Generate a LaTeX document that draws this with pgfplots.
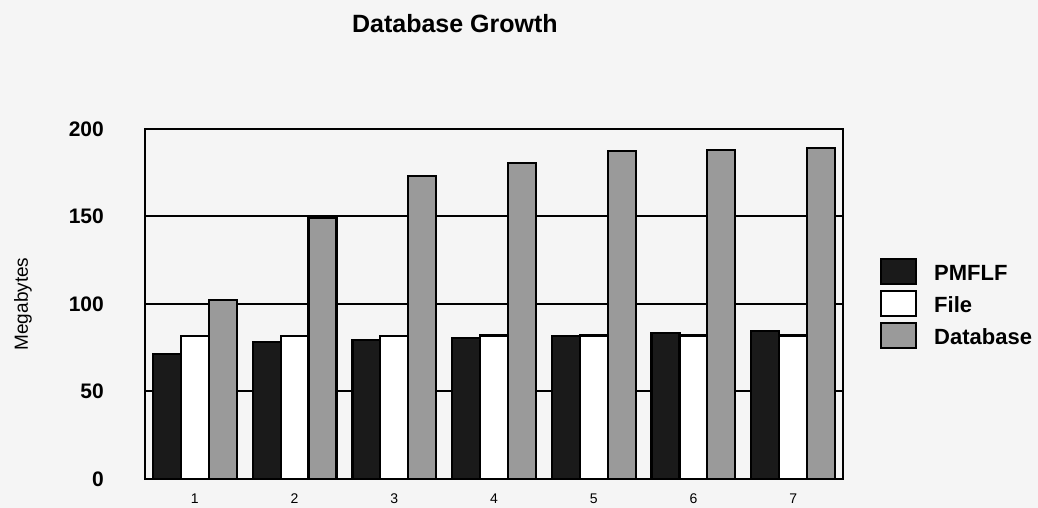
\documentclass[border=0pt]{standalone}
\usepackage{fontspec}
\setmainfont{Liberation Sans}
\usepackage{pgfplots}
\pgfplotsset{compat=1.18}
\definecolor{pmflf}{HTML}{1A1A1A}
\definecolor{dbgray}{HTML}{9A9A9A}
\definecolor{paper}{HTML}{F5F5F5}

\begin{document}
\begin{tikzpicture}[x=1bp,y=1bp]
\fill[paper] (0,0) rectangle (1038,508);
\path[use as bounding box] (0,0) rectangle (1038,508);
\begin{axis}[
  at={(145bp,29bp)}, anchor=south west,
  scale only axis, width=698bp, height=350bp,
  xmin=0.5, xmax=7.5, ymin=0, ymax=200,
  ybar=0pt, bar width=0.28,
  xtick={1,...,7}, ytick={0,50,100,150,200},
  major tick length=0pt,
  axis line style={line width=2bp},
  ymajorgrids, grid style={black, line width=2bp},
  /pgf/number format/assume math mode=true,
  yticklabel style={font=\fontsize{21bp}{24bp}\selectfont\bfseries,
    anchor=east, inner sep=0pt, xshift=-41bp},
  xticklabel style={font=\fontsize{14bp}{16bp}\selectfont,
    anchor=north, inner sep=0pt, yshift=-15bp},
  ylabel={Megabytes},
  ylabel style={font=\fontsize{19bp}{22bp}\selectfont,
    at={(axis description cs:-0.175,0.5)}, anchor=center},
  title={Database Growth},
  title style={font=\fontsize{25bp}{28bp}\selectfont\bfseries,
    at={(axis description cs:0.444,1.26)}, anchor=base, inner sep=0pt},
  legend style={draw=none, fill=none,
    at={(axis description cs:1.053,0.631)}, anchor=north west,
    font=\fontsize{22bp}{24bp}\selectfont\bfseries,
    row sep=5bp, inner sep=0pt, nodes={inner sep=0pt},
    /tikz/every odd column/.append style={column sep=17bp}},
  legend cell align=left,
  barlegend/.style={legend image code/.code={%
    \draw[##1, line width=2bp] (0bp,-11bp) rectangle (35bp,14bp);}},
]
\addplot[draw=black, fill=pmflf, line width=2.2bp, barlegend]
  coordinates {(1,71.3) (2,78.5) (3,79.4) (4,80.6) (5,81.7) (6,83.2) (7,84.7)};
\addplot[draw=black, fill=white, line width=2.2bp, barlegend]
  coordinates {(1,81.8) (2,81.9) (3,81.9) (4,82.0) (5,82.0) (6,82.0) (7,82.0)};
\addplot[draw=black, fill=dbgray, line width=2.2bp, barlegend]
  coordinates {(1,102.3) (2,149.0) (3,173.3) (4,180.4) (5,187.4) (6,188.0) (7,189.0)};
\legend{PMFLF, File, Database}
\end{axis}
\end{tikzpicture}
\end{document}
